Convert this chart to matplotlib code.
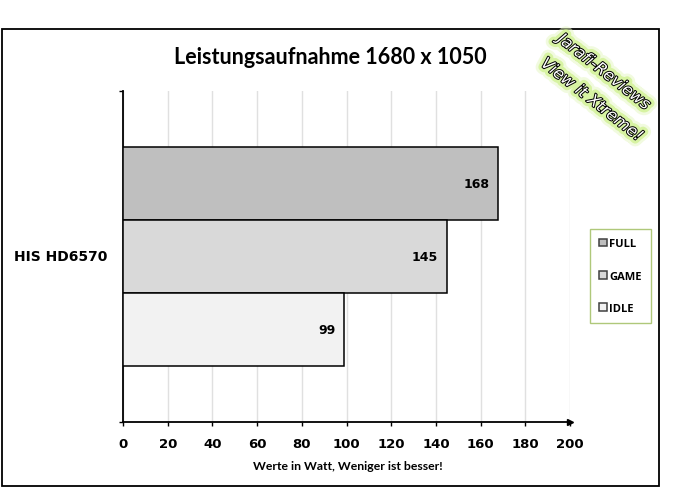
import matplotlib.pyplot as plt
import matplotlib.patheffects as pe
from matplotlib.patches import Rectangle

# data
card = 'HIS HD6570'
series = ['FULL', 'GAME', 'IDLE']
values = [168, 145, 99]
colors = ['#bfbfbf', '#d9d9d9', '#f2f2f2']
xticks = [0, 20, 40, 60, 80, 100, 120, 140, 160, 180, 200]

W, H = 694, 489
fig = plt.figure(figsize=(W / 100, H / 100), dpi=100)
ax = fig.add_axes([123 / W, 1 - 423 / H, (570 - 123) / W, (423 - 92) / H])

# outer frame
fig.patches.append(Rectangle((2 / W, 1 - 487 / H), 657 / W, 457 / H, transform=fig.transFigure,
                             fill=False, edgecolor='black', lw=1.3))

bh = 0.22
offsets = [bh, 0, -bh]
for name, v, c, off in zip(series, values, colors, offsets):
    ax.barh(off, v, height=bh, color=c, edgecolor='black', lw=1.1, label=name, zorder=3)
    ax.text(v - 4, off, str(v), ha='right', va='center', fontsize=9,
            fontweight='bold', family='DejaVu Sans', zorder=4)

ax.set_xlim(0, 200)
ax.set_ylim(-0.5, 0.5)
ax.set_xticks(xticks)
ax.set_xticklabels([str(t) for t in xticks], fontsize=9.5, fontweight='bold')
ax.set_yticks([-0.5, 0.5])
ax.set_yticklabels([])
ax.tick_params(axis='x', direction='out', length=3, width=1, pad=8)
ax.tick_params(axis='y', direction='out', length=3, width=1)
ax.grid(axis='x', color='#e0e0e0', lw=1, zorder=0)
for s in ['top', 'right']:
    ax.spines[s].set_visible(False)
for s in ['left', 'bottom']:
    ax.spines[s].set_linewidth(1.3)
ax.plot(1, 0, '>', color='black', ms=5, transform=ax.transAxes, clip_on=False)

ax.text(-0.035, 0, card, transform=ax.get_yaxis_transform(), ha='right', va='center',
        fontsize=10, fontweight='bold')

fig.text(330 / W, 1 - 57 / H, 'Leistungsaufnahme 1680 x 1050', ha='center', va='center',
         fontsize=15.5, fontweight='bold', family='Lato')
fig.text(348 / W, 1 - 467 / H, 'Werte in Watt, Weniger ist besser!', ha='center', va='center',
         fontsize=8.8, fontweight='bold', family='Lato')

leg = ax.legend(loc='center left', bbox_to_anchor=(590 / W, 1 - 277 / H),
                bbox_transform=fig.transFigure, frameon=True, fancybox=False,
                prop={'family': 'Open Sans', 'weight': 'bold', 'size': 8},
                handlelength=0.7, handleheight=0.7, handletextpad=0.15,
                labelspacing=1.9, borderpad=0.85, borderaxespad=0)
leg.get_frame().set_edgecolor('#9bbb59')
leg.get_frame().set_linewidth(1)
for h in leg.legend_handles:
    h.set_edgecolor('#404040')

# watermark
glow = [pe.Stroke(linewidth=10, foreground='#e4f7c0', alpha=0.5),
        pe.Stroke(linewidth=6, foreground='#c6ef7a', alpha=0.6),
        pe.Stroke(linewidth=1.4, foreground='black'), pe.Normal()]
fig.text(604 / W, 1 - 73 / H, 'Jarafi-Reviews', rotation=-38, ha='center', va='center',
         fontsize=11.5, style='italic', color='white', path_effects=glow)
fig.text(592 / W, 1 - 101 / H, 'View it Xtreme!', rotation=-38, ha='center', va='center',
         fontsize=11.5, style='italic', color='white', path_effects=glow)

fig.savefig('out.png', dpi=100)
